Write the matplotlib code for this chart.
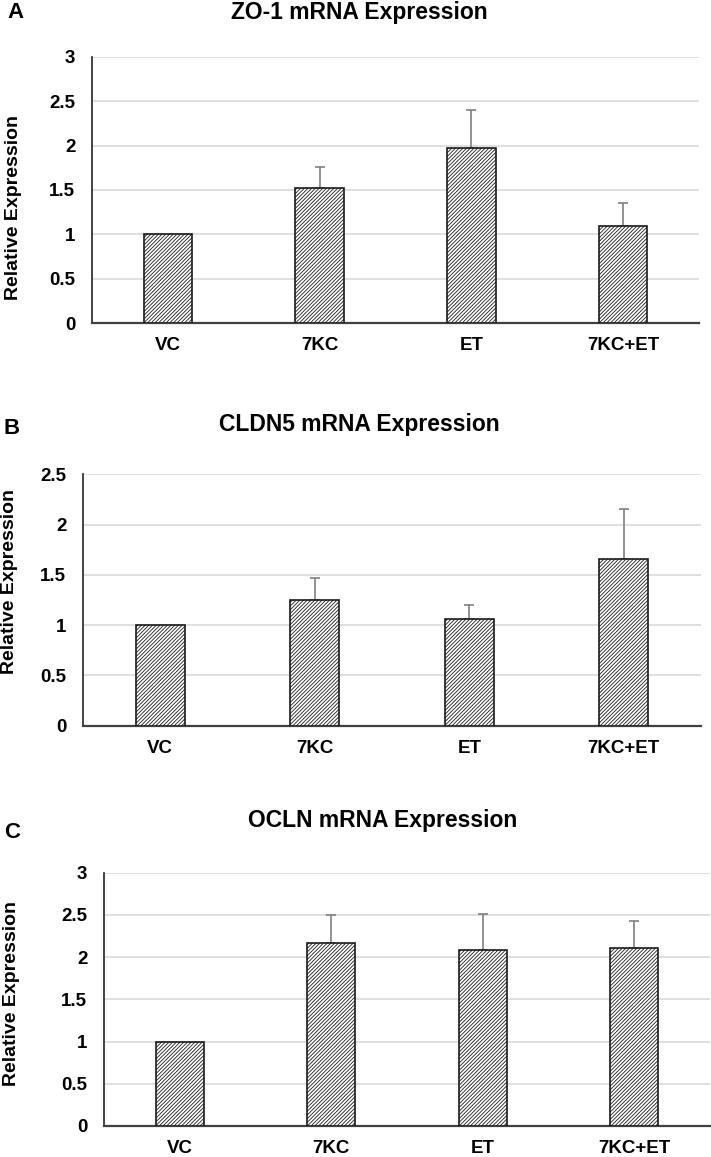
import numpy as np
import matplotlib
matplotlib.use('Agg')
import matplotlib.pyplot as plt

plt.rcParams['font.family'] = ['Liberation Sans', 'DejaVu Sans']
plt.rcParams['font.weight'] = 'bold'
plt.rcParams['hatch.linewidth'] = 0.6
plt.rcParams['hatch.color'] = '#333333'

# data
groups = ['VC', '7KC', 'ET', '7KC+ET']
titles = ['ZO-1 mRNA Expression', 'CLDN5 mRNA Expression', 'OCLN mRNA Expression']
panel_labels = ['A', 'B', 'C']
zo1_mean = [1.0, 1.52, 1.97, 1.10]
zo1_err = [0.0, 0.24, 0.43, 0.25]
cldn5_mean = [1.0, 1.25, 1.06, 1.66]
cldn5_err = [0.0, 0.215, 0.145, 0.495]
ocln_mean = [1.0, 2.17, 2.08, 2.11]
ocln_err = [0.0, 0.33, 0.435, 0.315]
y_max = [3, 2.5, 3]

W, H = 711, 1157
fig = plt.figure(figsize=(W / 100, H / 100), dpi=100)


def px(x, y):
    return x / W, 1 - y / H


# axes boxes in pixels: left, right, top, bottom
boxes = [(92, 699, 56.7, 323.3), (83, 701, 474.3, 725.7), (104, 710, 872.7, 1126)]
title_pos = [(359, 13), (359, 425), (383, 821)]
letter_pos = [(16, 12.5), (12, 429), (12, 832)]
ylabel_pos = [(14, 207), (10, 582), (12, 994)]

means = [zo1_mean, cldn5_mean, ocln_mean]
errs = [zo1_err, cldn5_err, ocln_err]

for i in range(3):
    l, r, t, b = boxes[i]
    ax = fig.add_axes([l / W, 1 - b / H, (r - l) / W, (b - t) / H])
    x = np.arange(len(groups))
    ax.bar(x, means[i], width=0.32, color='white', edgecolor='#1a1a1a',
           linewidth=1.2, hatch='/' * 9, zorder=3)
    e = np.array(errs[i])
    m = np.array(means[i])
    sel = e > 0
    ax.errorbar(x[sel], m[sel], yerr=[np.zeros(sel.sum()), e[sel]], fmt='none',
                ecolor='#808080', elinewidth=1.2, capsize=3.5, capthick=1.2, zorder=2)
    ax.set_xlim(-0.5, 3.5)
    ax.set_ylim(0, y_max[i])
    ticks = np.arange(0, y_max[i] + 0.01, 0.5)
    ax.set_yticks(ticks)
    ax.set_yticklabels(['{:g}'.format(v) for v in ticks])
    ax.set_xticks(x)
    ax.set_xticklabels(groups)
    ax.tick_params(axis='both', length=0, labelsize=13.5)
    ax.tick_params(axis='y', pad=12)
    ax.tick_params(axis='x', pad=10)
    ax.grid(axis='y', color='#d9d9d9', linewidth=1.2, zorder=0)
    ax.set_axisbelow(True)
    for s in ['top', 'right']:
        ax.spines[s].set_visible(False)
    ax.spines['left'].set_color('#222222')
    ax.spines['left'].set_linewidth(1.2)
    ax.spines['bottom'].set_color('#404040')
    ax.spines['bottom'].set_linewidth(1.6)

    fig.text(*px(*title_pos[i]), titles[i], ha='center', va='center', fontsize=16.5, fontweight='bold')
    fig.text(*px(*letter_pos[i]), panel_labels[i], ha='center', va='center', fontsize=16, fontweight='bold')
    fig.text(*px(*ylabel_pos[i]), 'Relative Expression', ha='center', va='center',
             rotation=90, fontsize=14, fontweight='bold')

fig.savefig('out.png', dpi=100)
